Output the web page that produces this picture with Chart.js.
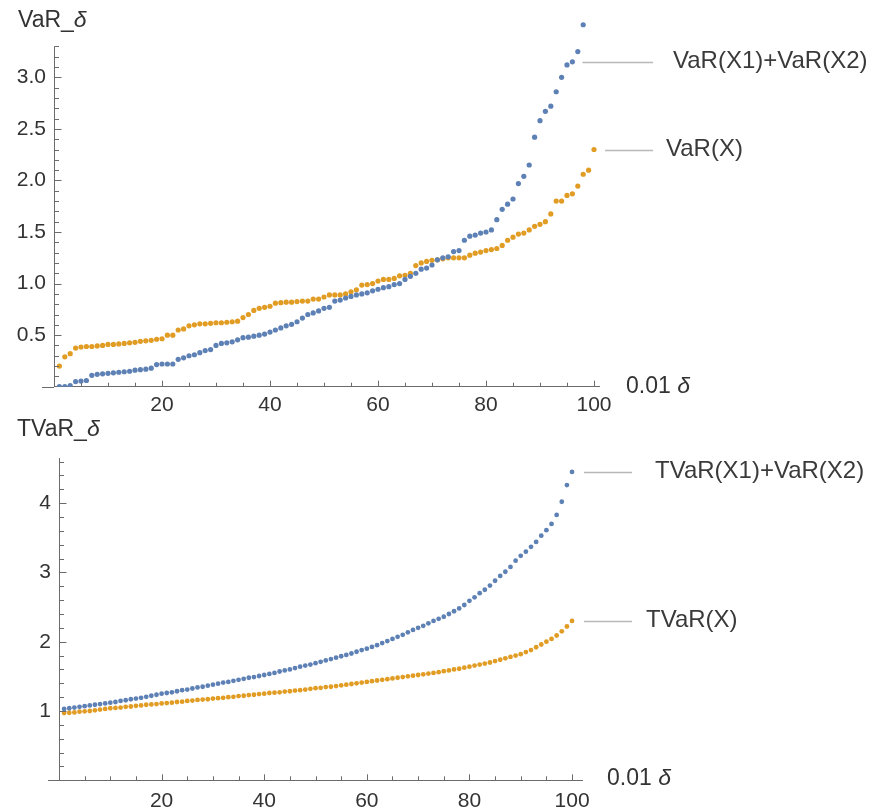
<!DOCTYPE html>
<html>
<head>
<meta charset="utf-8">
<script src="https://cdn.jsdelivr.net/npm/chart.js@4.4.1/dist/chart.umd.min.js"></script>
<style>
  body { margin: 0; background: #fff; }
  #wrap { position: relative; width: 870px; height: 811px; }
  #var-chart { position: absolute; left: 0; top: 0; }
  #tvar-chart { position: absolute; left: 0; top: 405px; }
</style>
</head>
<body>
<div id="wrap">
  <canvas id="var-chart" width="870" height="420"></canvas>
  <canvas id="tvar-chart" width="870" height="406"></canvas>
</div>
<script>
// VaR of the sum vs. sum of VaRs, x = 1..100 (units of 0.01 delta)
let varSum = [0.00,0.00,0.01,0.05,0.055,0.06,0.11,0.12,0.125,0.13,
  0.135,0.14,0.145,0.15,0.16,0.165,0.17,0.18,0.215,0.22,
  0.22,0.22,0.265,0.28,0.30,0.31,0.33,0.35,0.36,0.40,
  0.42,0.425,0.435,0.455,0.475,0.48,0.49,0.50,0.51,0.53,
  0.55,0.57,0.59,0.605,0.63,0.665,0.70,0.715,0.735,0.76,
  0.77,0.83,0.84,0.86,0.875,0.89,0.90,0.91,0.93,0.945,
  0.96,0.97,0.99,1.00,1.04,1.07,1.10,1.14,1.15,1.18,
  1.23,1.25,1.26,1.31,1.32,1.42,1.46,1.47,1.49,1.50,
  1.52,1.62,1.72,1.77,1.82,1.97,2.04,2.15,2.42,2.58,
  2.67,2.72,2.86,3.00,3.12,3.15,3.25,3.51]
let varX = [0.20,0.29,0.32,0.375,0.385,0.39,0.39,0.395,0.40,0.41,
  0.41,0.415,0.42,0.425,0.43,0.44,0.445,0.45,0.46,0.465,
  0.50,0.50,0.55,0.56,0.59,0.60,0.61,0.61,0.615,0.62,
  0.62,0.625,0.63,0.635,0.67,0.70,0.74,0.76,0.77,0.78,
  0.81,0.815,0.82,0.82,0.825,0.83,0.83,0.85,0.85,0.87,
  0.89,0.89,0.89,0.90,0.92,0.94,0.985,0.99,1.00,1.025,
  1.04,1.04,1.05,1.075,1.08,1.10,1.175,1.20,1.215,1.225,
  1.23,1.24,1.25,1.25,1.25,1.25,1.275,1.295,1.305,1.32,
  1.33,1.34,1.37,1.42,1.45,1.48,1.49,1.52,1.555,1.575,
  1.60,1.675,1.80,1.80,1.855,1.87,1.945,2.06,2.10,2.30]

let tvarSum = [1.03,1.04,1.05,1.06,1.07,1.08,1.09,1.10,1.11,1.12,
  1.13,1.145,1.155,1.17,1.18,1.19,1.205,1.22,1.235,1.25,
  1.26,1.27,1.285,1.30,1.31,1.325,1.34,1.35,1.365,1.38,
  1.395,1.41,1.42,1.435,1.45,1.465,1.48,1.49,1.505,1.52,
  1.535,1.55,1.57,1.585,1.60,1.62,1.64,1.655,1.67,1.69,
  1.71,1.73,1.75,1.77,1.79,1.81,1.83,1.855,1.88,1.90,
  1.925,1.95,1.98,2.01,2.04,2.07,2.10,2.135,2.17,2.20,
  2.23,2.265,2.30,2.33,2.36,2.40,2.44,2.48,2.53,2.59,
  2.64,2.70,2.75,2.81,2.88,2.95,3.01,3.08,3.17,3.24,
  3.30,3.37,3.44,3.53,3.61,3.70,3.83,4.02,4.26,4.45]
let tvarX = [0.97,0.975,0.98,0.99,0.995,1.00,1.01,1.02,1.03,1.04,
  1.045,1.05,1.06,1.065,1.075,1.08,1.09,1.095,1.10,1.11,
  1.115,1.12,1.13,1.135,1.145,1.15,1.16,1.165,1.17,1.18,
  1.185,1.19,1.20,1.205,1.215,1.22,1.23,1.235,1.245,1.25,
  1.26,1.265,1.27,1.28,1.285,1.295,1.30,1.31,1.32,1.33,
  1.335,1.345,1.35,1.36,1.37,1.38,1.39,1.40,1.41,1.42,
  1.43,1.44,1.45,1.46,1.47,1.48,1.49,1.50,1.51,1.52,
  1.53,1.54,1.55,1.56,1.575,1.585,1.60,1.61,1.625,1.64,
  1.655,1.67,1.685,1.70,1.72,1.74,1.76,1.78,1.80,1.82,
  1.85,1.88,1.92,1.96,2.00,2.04,2.09,2.15,2.22,2.30]

let topLabels = ['VaR(X1)+VaR(X2)', 'VaR(X)']
let bottomLabels = ['TVaR(X1)+VaR(X2)', 'TVaR(X)']
let xMajorTicks = [20, 40, 60, 80, 100]

const BLUE = '#5e81b5'
const ORANGE = '#e19c24'
const AXIS = '#6b6b6b'
const TEXT = '#333'
const FONT = "'Liberation Sans', Arial, sans-serif"

function toPoints(arr) {
    return arr.map((v, i) => ({x: i + 1, y: v}))
}

// mathematica-style axes: inward ticks, short y axis, labels, callouts
const mmaDeco = {
    id: 'mmaDeco',
    afterDraw(chart, args, o) {
        const ctx = chart.ctx
        const a = chart.chartArea
        const xs = chart.scales.x, ys = chart.scales.y
        const yTop = ys.getPixelForValue(o.axisTop)
        const lx = Math.round(a.left) + 0.5
        ctx.save()
        ctx.strokeStyle = AXIS
        ctx.lineWidth = 1
        ctx.beginPath()
        ctx.moveTo(a.left - o.stub, Math.round(a.bottom) + 0.5)
        ctx.lineTo(a.left, Math.round(a.bottom) + 0.5)
        ctx.moveTo(lx, a.bottom)
        ctx.lineTo(lx, yTop)
        ctx.stroke()
        xs.ticks.forEach(t => {
            if (t.value <= 0) return
            const px = Math.round(xs.getPixelForValue(t.value)) + 0.5
            const len = t.label ? 6 : 4
            ctx.beginPath()
            ctx.moveTo(px, a.bottom)
            ctx.lineTo(px, a.bottom - len)
            ctx.stroke()
        })
        ys.ticks.forEach(t => {
            if (t.value <= 0 || t.value > o.axisTop + 1e-6) return
            const py = Math.round(ys.getPixelForValue(t.value)) + 0.5
            const len = t.label ? 7 : 4.5
            ctx.beginPath()
            ctx.moveTo(lx, py)
            ctx.lineTo(lx + len, py)
            ctx.stroke()
        })

        // axis labels
        ctx.fillStyle = TEXT
        ctx.textBaseline = 'alphabetic'
        ctx.font = '23px ' + FONT
        ctx.fillText(o.yLabel, o.yLabelPos[0], o.yLabelPos[1])
        let w = ctx.measureText(o.yLabel).width
        ctx.font = 'italic 23px ' + FONT
        ctx.fillText('δ', o.yLabelPos[0] + w, o.yLabelPos[1])
        ctx.font = '23px ' + FONT
        ctx.fillText('0.01 ', o.xLabelPos[0], o.xLabelPos[1])
        w = ctx.measureText('0.01 ').width
        ctx.font = 'italic 23px ' + FONT
        ctx.fillText('δ', o.xLabelPos[0] + w, o.xLabelPos[1])

        // callouts
        ctx.font = '24px ' + FONT
        ctx.textBaseline = 'middle'
        o.callouts.forEach(c => {
            const pt = chart.getDatasetMeta(c.ds).data[c.idx]
            const y = Math.round(pt.y) + 0.5
            ctx.strokeStyle = '#b8b8b8'
            ctx.lineWidth = 1.5
            ctx.beginPath()
            ctx.moveTo(pt.x + c.gap, y)
            ctx.lineTo(c.lineEnd, y)
            ctx.stroke()
            ctx.fillStyle = '#3a3a3a'
            ctx.fillText(c.text, c.textX, y - 1)
        })
        ctx.restore()
    }
}

function makeChart(id, series, opts) {
    return new Chart(document.getElementById(id).getContext('2d'), {
        type: 'scatter',
        data: {
            datasets: series.map((s, i) => ({
                label: opts.labels[i],
                data: toPoints(s),
                backgroundColor: i === 0 ? BLUE : ORANGE,
                borderWidth: 0,
                pointRadius: opts.radius,
            })),
        },
        options: {
            responsive: false,
            animation: false,
            events: [],
            layout: {padding: opts.padding},
            plugins: {
                legend: {display: false},
                tooltip: {enabled: false},
                mmaDeco: opts.deco,
            },
            scales: {
                x: {
                    type: 'linear',
                    min: 0,
                    max: opts.xMax,
                    afterFit: sc => { sc.height = opts.xHeight },
                    grid: {display: false, drawTicks: false},
                    border: {display: true, color: AXIS, width: 1},
                    ticks: {
                        stepSize: 5,
                        includeBounds: false,
                        autoSkip: false,
                        maxRotation: 0,
                        padding: opts.xPad,
                        color: TEXT,
                        font: {family: FONT, size: 21},
                        callback: v => xMajorTicks.includes(v) ? String(v) : '',
                    },
                },
                y: {
                    type: 'linear',
                    min: 0,
                    max: opts.yMax,
                    afterFit: sc => { sc.width = opts.yWidth },
                    grid: {display: false, drawTicks: false},
                    border: {display: false},
                    ticks: {
                        stepSize: opts.yMinor,
                        includeBounds: false,
                        autoSkip: false,
                        padding: 8,
                        color: TEXT,
                        font: {family: FONT, size: 21},
                        callback: v => v > opts.deco.axisTop ? '' : opts.yLabel(v),
                    },
                },
            },
        },
        plugins: [mmaDeco],
    })
}

// top panel: 0..3.3 axis, range opened to 3.55 so the last point still shows
makeChart('var-chart', [varSum, varX], {
    labels: topLabels,
    radius: 2.6,
    padding: {top: 19.6, right: 270.6, bottom: 0, left: 0},
    xMax: 101, xHeight: 33.3, xPad: 6,
    yMax: 3.55, yMinor: 0.1, yWidth: 54,
    yLabel: v => {
        const k = Math.round(v * 2)
        return (k > 0 && Math.abs(v * 2 - k) < 1e-6) ? (k / 2).toFixed(1) : ''
    },
    deco: {
        stub: 12, axisTop: 3.3,
        yLabel: 'VaR_', yLabelPos: [18, 27],
        xLabelPos: [626, 393],
        callouts: [
            {ds: 0, idx: 95, text: topLabels[0], gap: 10, lineEnd: 653, textX: 673},
            {ds: 1, idx: 99, text: topLabels[1], gap: 11, lineEnd: 653, textX: 666},
        ],
    },
})

makeChart('tvar-chart', [tvarSum, tvarX], {
    labels: bottomLabels,
    radius: 2.4,
    padding: {top: 53.1, right: 287.7, bottom: 0, left: 0},
    xMax: 102, xHeight: 30.7, xPad: 8,
    yMax: 4.65, yMinor: 0.2, yWidth: 59,
    yLabel: v => {
        const k = Math.round(v)
        return (k > 0 && Math.abs(v - k) < 1e-6) ? String(k) : ''
    },
    deco: {
        stub: 11, axisTop: 4.65,
        yLabel: 'TVaR_', yLabelPos: [17, 31],
        xLabelPos: [607, 380],
        callouts: [
            {ds: 0, idx: 99, text: bottomLabels[0], gap: 12, lineEnd: 632, textX: 655},
            {ds: 1, idx: 99, text: bottomLabels[1], gap: 12, lineEnd: 632, textX: 646},
        ],
    },
})
</script>
</body>
</html>
